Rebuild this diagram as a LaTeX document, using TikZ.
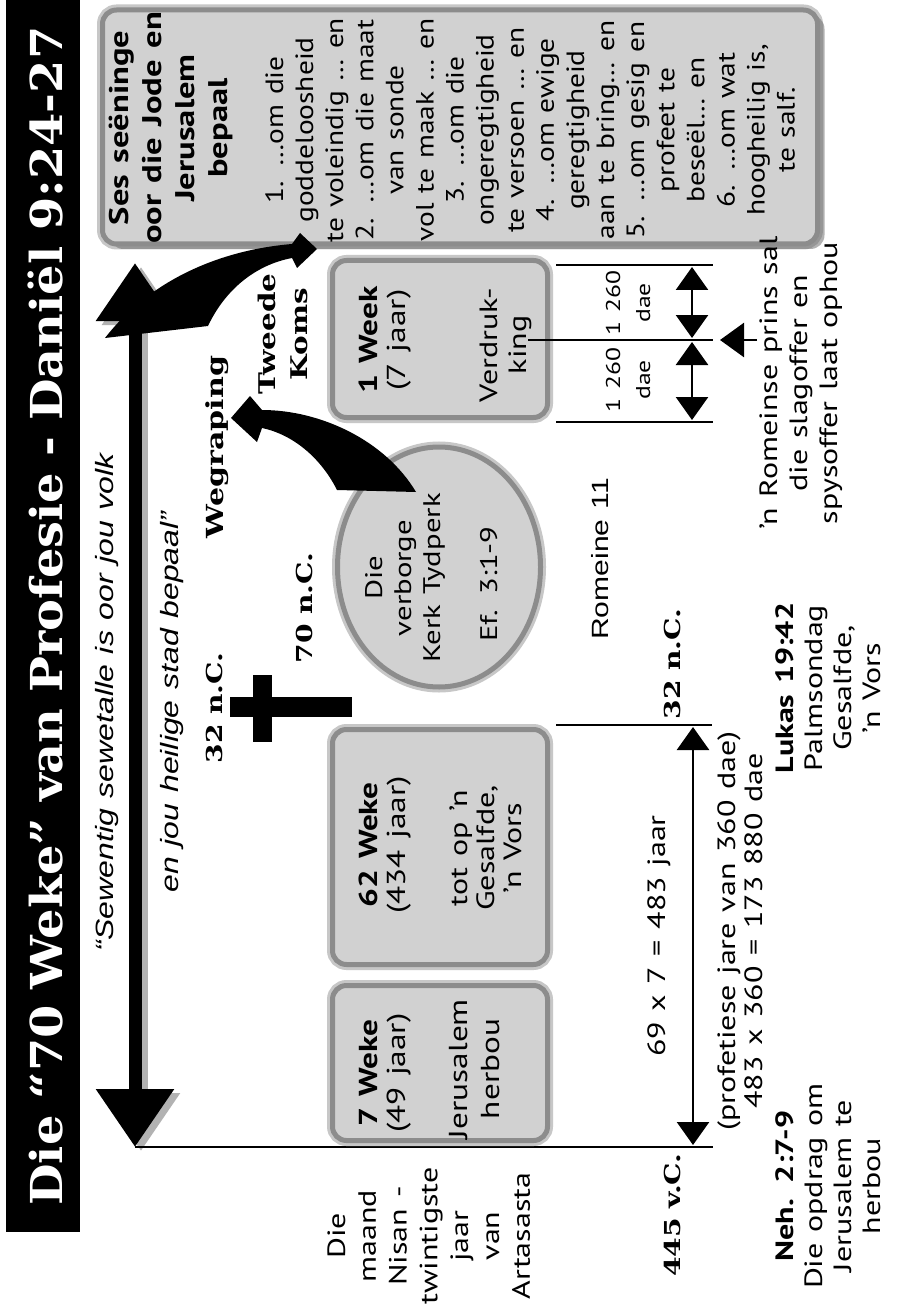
\documentclass[tikz,border=0pt]{standalone}
\usepackage{fontspec}
\setmainfont{PT Sans}
\newfontfamily\slab{DejaVu Serif}
\newfontfamily\arial{Liberation Sans}
\usetikzlibrary{arrows.meta,shadows,shapes.geometric}
\newcommand{\fs}[2]{\fontsize{#1}{#2}\selectfont}
\tikzset{
  lbl/.style={rotate=90, xscale=1.28, inner sep=0pt, anchor=base, text width=700pt, align=center},
  boxshape/.style={draw=black!45, line width=5pt, fill=black!18, rounded corners=14pt, inner sep=0pt,
    preaction={draw=black!22, line width=11pt}},
  thin/.style={line width=2.8pt},
  dimarrow/.style={line width=2.6pt, {Triangle[length=23pt,width=32pt]}-{Triangle[length=23pt,width=32pt]}},
  slabfont/.style={font=\slab\bfseries\fs{22}{26}},
}
\begin{document}
\begin{tikzpicture}[x=1pt,y=-1pt]
\useasboundingbox (0,0) rectangle (901,1305);
\fill[white] (0,0) rectangle (901,1305);

% title bar
\node[fill=black, minimum width=74pt, minimum height=1232pt, inner sep=0pt, anchor=north west] (bar) at (6,0) {};
\node[lbl, text width=1500pt, font=\slab\bfseries\fs{44}{50}, text=white, xscale=0.85] (title) at (62,616) {Die “70 Weke” van Profesie - Daniël 9:24-27};

% quotes
\node[lbl, font=\arial\itshape\fs{25}{30}] (q1) at (113,702) {“Sewentig sewetalle is oor jou volk};
\node[lbl, font=\arial\itshape\fs{25}{30}] (q2) at (178,702) {en jou heilige stad bepaal”};

% timeline arrow
\coordinate (tlB) at (135,1147);
\coordinate (tlT) at (135,263);
\draw[black!30, line width=13pt, {Triangle[length=58pt,width=75pt]}-{Triangle[length=58pt,width=75pt]}]
  ([shift={(6,4)}]tlB) -- ([shift={(6,4)}]tlT);
\draw[black, line width=13pt, {Triangle[length=58pt,width=75pt]}-{Triangle[length=58pt,width=75pt]}] (tlB) -- (tlT);

% horizontal lines
\coordinate (h1e) at (713,1147);
\draw[thin] (tlB) -- (h1e);
\coordinate (h2s) at (556,725); \coordinate (h2e) at (712,725);
\draw[thin] (h2s) -- (h2e);
\coordinate (h3s) at (556,265); \coordinate (h3e) at (713,265);
\draw[thin] (h3s) -- (h3e);
\coordinate (h4s) at (556,422); \coordinate (h4e) at (713,422);
\draw[thin] (h4s) -- (h4e);

% boxes
\node[boxshape, minimum width=715pt, minimum height=234pt,
  drop shadow={shadow xshift=7pt, shadow yshift=-5pt, fill=black!60, opacity=0.5}] (ses) at (460,127) {};
\node[boxshape, minimum width=215pt, minimum height=155pt] (b7) at (440,1063) {};
\node[boxshape, minimum width=215pt, minimum height=235pt] (b62) at (440,847) {};
\node[boxshape, minimum width=215pt, minimum height=157pt] (b1) at (440,339) {};
\node[ellipse, draw=black!45, line width=5pt, fill=black!18, inner sep=0pt,
  preaction={draw=black!22, line width=11pt}, minimum width=203pt, minimum height=240pt] (ell) at (439,567) {};

% middle tribulation line
\coordinate (h5s) at (528,340); \coordinate (h5e) at (713,340);
\draw[thin] (h5s) -- (h5e);

% box texts
\node[lbl, font=\bfseries\fs{27}{33}] (sest) at (128,128) {Ses seëninge\\oor die Jode en\\Jerusalem\\bepaal};
\node[lbl, font=\fs{25}{30.1}, xscale=0.92] (sesl) at (283,130) {1. …om die\\goddeloosheid\\te voleindig … en\\2. …om die maat\\van sonde\\vol te maak … en\\3. …om die\\ongeregtigheid\\te versoen … en\\4. …om ewige\\geregtigheid\\aan te bring… en\\5. …om gesig en\\profeet te\\beseël… en\\6. …om wat\\hoogheilig is,\\te salf.};

\node[lbl, font=\fs{26}{28}] (w7a) at (377,1073) {{\bfseries 7 Weke}\\(49 jaar)};
\node[lbl, font=\fs{26}{32}] (w7b) at (467,1069) {Jerusalem\\herbou};
\node[lbl, font=\fs{26}{28}] (w62a) at (377,845) {{\bfseries 62 Weke}\\(434 jaar)};
\node[lbl, font=\fs{25}{27}] (w62b) at (467,848) {tot op ’n\\Gesalfde,\\’n Vors};
\node[lbl, font=\fs{26}{28}] (w1a) at (377,340) {{\bfseries 1 Week}\\(7 jaar)};
\node[lbl, font=\fs{25}{29}] (w1b) at (497,345) {Verdruk-\\king};
\node[lbl, font=\fs{24}{29}] (elt) at (382,578) {Die\\verborge\\Kerk Tydperk};
\node[lbl, font=\fs{24}{29}] (elr) at (497,584) {Ef. 3:1-9};

\node[lbl, font=\arial\fs{23.5}{28}] (rom) at (608,559) {Romeine 11};

% slab labels
\node[lbl, slabfont] (c32a) at (222,708) {32 n.C.};
\node[lbl, slabfont] (c70) at (312,608) {70 n.C.};
\node[lbl, font=\slab\bfseries\fs{23.5}{32}] (wegr) at (223,447) {Wegraping};
\node[lbl, font=\slab\bfseries\fs{23}{32}] (koms) at (275,334) {Tweede\\Koms};
\node[lbl, slabfont] (c32b) at (680,664) {32 n.C.};
\node[lbl, slabfont] (c445) at (680,1215) {445 v.C.};

% cross
\fill (230,697) rectangle (352,717);
\fill (253,675) rectangle (272,742);

% swoosh: Wegraping
\coordinate (wTA) at (337,490); \coordinate (wTB) at (416,492);
\coordinate (wTip) at (231,418);
\fill (wTB) .. controls (385,440) and (320,410) .. (262,410) -- (250,396) -- (wTip) -- (257,442) -- (262,428)
  .. controls (295,435) and (322,460) .. (wTA) -- cycle;

% swoosh: Tweede Koms
\coordinate (kT0) at (105,338); \coordinate (kT1) at (208,326);
\coordinate (kTip) at (317,249);
\fill (kT0) .. controls (150,280) and (220,250) .. (292,244) -- (300,233) -- (kTip) -- (297,268) -- (292,258)
  .. controls (255,265) and (225,290) .. (kT1) -- cycle;

% dimension arrows
\coordinate (a1t) at (693,727); \coordinate (a1b) at (693,1145);
\draw[dimarrow] (a1t) -- (a1b);
\coordinate (a2t) at (692,267); \coordinate (a2b) at (692,338);
\draw[dimarrow] (a2t) -- (a2b);
\coordinate (a3t) at (692,342); \coordinate (a3b) at (692,420);
\draw[dimarrow] (a3t) -- (a3b);
\coordinate (rp) at (757,340); \coordinate (rpt) at (720,340);
\draw[line width=2.6pt, -{Triangle[length=24pt,width=34pt]}] (rp) -- (rpt);

% lower texts
\node[lbl, font=\fs{25}{30}] (calc) at (665,936) {69 x 7 = 483 jaar};
\node[lbl, font=\fs{25}{27}] (prof) at (735,931) {(profetiese jare van 360 dae)\\483 x 360 = 173 880 dae};
\node[lbl, font=\fs{20}{30}] (d1) at (620,303) {1 260\\dae};
\node[lbl, font=\fs{20}{30}] (d2) at (620,380) {1 260\\dae};
\node[lbl, font=\fs{25}{30}] (prins) at (777,383) {’n Romeinse prins sal\\die slagoffer en\\spysoffer laat ophou};
\node[lbl, font=\fs{25}{29}] (luk) at (793,688) {{\bfseries Lukas 19:42}\\Palmsondag\\Gesalfde,\\’n Vors};
\node[lbl, font=\fs{25}{29}] (neh) at (793,1186) {{\bfseries Neh. 2:7-9}\\Die opdrag om\\Jerusalem te\\herbou};
\node[lbl, font=\fs{25}{30.8}] (nisan) at (345,1236) {Die\\maand\\Nisan -\\twintigste\\jaar\\van\\Artasasta};
\end{tikzpicture}
\end{document}
